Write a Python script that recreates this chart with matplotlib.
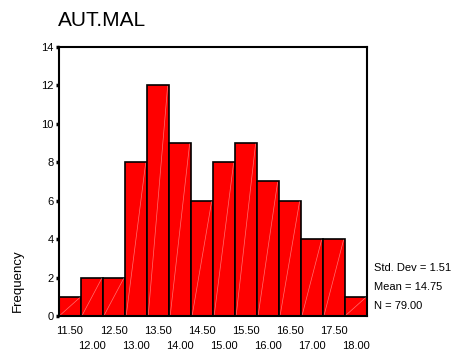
import matplotlib
matplotlib.use("Agg")
import matplotlib.pyplot as plt
import numpy as np

plt.rcParams['font.family'] = ['Liberation Sans', 'DejaVu Sans']

bin_centers = [11.5, 12.0, 12.5, 13.0, 13.5, 14.0, 14.5, 15.0, 15.5, 16.0, 16.5, 17.0, 17.5, 18.0]
counts = [1, 2, 2, 8, 12, 9, 6, 8, 9, 7, 6, 4, 4, 1]
tick_labels = ["11.50", "12.00", "12.50", "13.00", "13.50", "14.00", "14.50",
               "15.00", "15.50", "16.00", "16.50", "17.00", "17.50", "18.00"]
y_ticks = [0, 2, 4, 6, 8, 10, 12, 14]
stats = ["Std. Dev = 1.51", "Mean = 14.75", "N = 79.00"]
title = "AUT.MAL"
width = 0.5

fig = plt.figure(figsize=(4.54, 3.53), dpi=100)
ax = fig.add_axes([0.130, 0.105, 0.678, 0.762])

ax.bar(bin_centers, counts, width=width, color='#ff0000',
       edgecolor='black', linewidth=1.2, align='center')
for c, h in zip(bin_centers, counts):
    ax.plot([c - width/2 + 0.03, c + width/2 - 0.03], [0.05, h - 0.05],
            color='white', lw=0.5, alpha=0.45)

ax.set_xlim(bin_centers[0] - width/2, bin_centers[-1] + width/2)
ax.set_ylim(0, 14)
ax.set_yticks(y_ticks)
ax.set_yticklabels([str(t) for t in y_ticks], fontsize=8)

major_pos = bin_centers[0::2]
minor_pos = bin_centers[1::2]
ax.set_xticks(major_pos)
ax.set_xticklabels(tick_labels[0::2], fontsize=8)
ax.set_xticks(minor_pos, minor=True)
ax.set_xticklabels(tick_labels[1::2], minor=True, fontsize=8)
ax.tick_params(axis='y', length=2, width=2.5, pad=2, direction='out')
ax.tick_params(axis='x', which='major', length=0, pad=7)
ax.tick_params(axis='x', which='minor', length=0, pad=18)
for s in ax.spines.values():
    s.set_linewidth(1.5)

fig.text(0.128, 0.943, title, fontsize=15, ha='left', va='center')
fig.text(0.040, 0.205, "Frequency", rotation=90, fontsize=9.5, ha='center', va='center')
for i, s in enumerate(stats):
    fig.text(0.823, 0.240 - i * 0.054, s, fontsize=8, ha='left', va='center')

fig.savefig("out.png", dpi=100)
